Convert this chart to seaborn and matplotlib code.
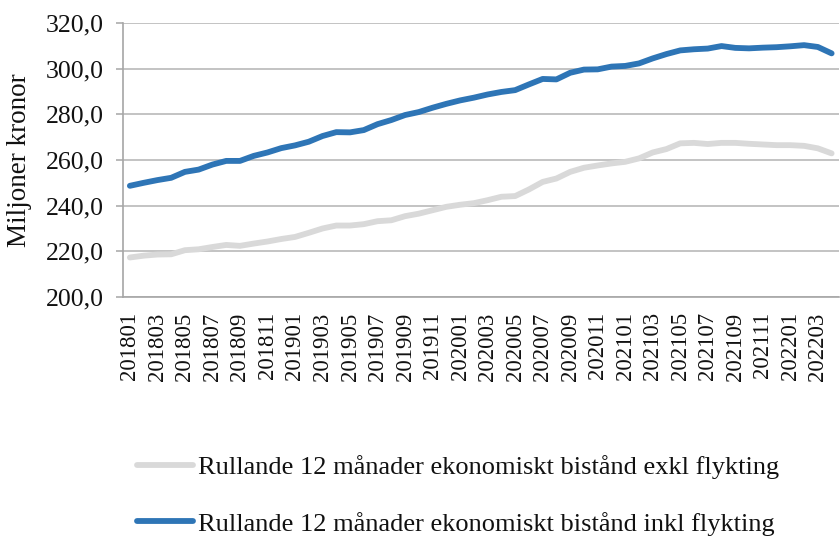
import matplotlib
matplotlib.use("Agg")
import matplotlib.pyplot as plt
import seaborn as sns
import pandas as pd
from matplotlib.ticker import FuncFormatter, MultipleLocator
from matplotlib.lines import Line2D

months = [f"{y}{m:02d}" for y in range(2018, 2023) for m in range(1, 13)][:52]

exkl = [217.3, 218.1, 218.6, 218.7, 220.5, 220.9, 221.9, 222.8, 222.4, 223.4,
        224.3, 225.4, 226.3, 228.1, 230.0, 231.3, 231.3, 231.9, 233.2, 233.6,
        235.4, 236.5, 238.0, 239.5, 240.4, 241.1, 242.4, 243.9, 244.2, 247.1,
        250.4, 251.9, 254.8, 256.6, 257.6, 258.5, 259.2, 260.7, 263.3, 264.8,
        267.3, 267.5, 267.0, 267.5, 267.5, 267.1, 266.8, 266.5, 266.5, 266.2,
        265.1, 262.9]
inkl = [248.7, 250.0, 251.2, 252.2, 254.8, 255.8, 258.0, 259.6, 259.6, 261.8,
        263.3, 265.2, 266.4, 268.0, 270.5, 272.2, 272.1, 273.1, 275.7, 277.5,
        279.7, 281.0, 282.9, 284.6, 286.1, 287.3, 288.7, 289.8, 290.6, 293.1,
        295.5, 295.3, 298.2, 299.6, 299.7, 300.9, 301.2, 302.3, 304.5, 306.4,
        308.0, 308.5, 308.8, 309.9, 309.1, 308.9, 309.2, 309.4, 309.8, 310.3,
        309.5, 306.7]

label_exkl = "Rullande 12 månader ekonomiskt bistånd exkl flykting"
label_inkl = "Rullande 12 månader ekonomiskt bistånd inkl flykting"

df = pd.DataFrame({
    "idx": list(range(len(months))) * 2,
    "value": exkl + inkl,
    "serie": [label_exkl] * len(months) + [label_inkl] * len(months),
})

sns.set_theme(style="white")
plt.rcParams['font.family'] = ['Liberation Serif', 'DejaVu Serif']

fig = plt.figure(figsize=(8.4, 5.4), dpi=100)
ax = fig.add_axes([123 / 840, 1 - 297 / 540, (838.5 - 123) / 840, (297 - 23) / 540])

sns.lineplot(data=df, x="idx", y="value", hue="serie",
             palette={label_exkl: "#D9D9D9", label_inkl: "#2E75B6"},
             linewidth=4.2, ax=ax, legend=False)

ax.set_xlim(-0.5, len(months) - 0.5)
ax.set_ylim(200, 320)
ax.yaxis.set_major_locator(MultipleLocator(20))
ax.yaxis.set_major_formatter(FuncFormatter(lambda v, p: f"{v:.1f}".replace(".", ",")))
ax.set_xticks(range(0, len(months), 2))
ax.set_xticklabels(months[::2], rotation=90)
ax.grid(axis="y", color="#B3B3B3", linewidth=1.1)
ax.set_axisbelow(True)
for s in ["top", "right"]:
    ax.spines[s].set_visible(False)
for s in ["left", "bottom"]:
    ax.spines[s].set_color("#A6A6A6")
    ax.spines[s].set_linewidth(1.2)
ax.tick_params(axis="y", which="major", length=5, width=1.1, color="#A6A6A6",
               left=True, labelsize=18.5, pad=9, labelcolor="#111111")
ax.tick_params(axis="x", length=0, labelsize=16.5, pad=11, labelcolor="#111111")
ax.set_xlabel("")
ax.set_ylabel("")
fig.text(20 / 840, 1 - 160 / 540, "Miljoner kronor", rotation=90,
         ha="center", va="center", fontsize=19.5, color="#111111")

handles = [Line2D([], [], color="#D9D9D9", linewidth=4.2, solid_capstyle="round"),
           Line2D([], [], color="#2E75B6", linewidth=4.2, solid_capstyle="round")]
fig.legend(handles, [label_exkl, label_inkl], loc="center",
           bbox_to_anchor=(458 / 840, 1 - 495.5 / 540), frameon=False,
           fontsize=19, handlelength=2.1, handletextpad=0.2,
           labelspacing=1.22, labelcolor="#111111", borderpad=0)

fig.savefig("out.png", dpi=100)
